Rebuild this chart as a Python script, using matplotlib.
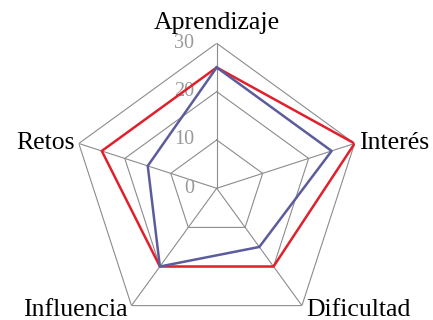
import numpy as np
import matplotlib
matplotlib.use("Agg")
import matplotlib.pyplot as plt

categories = ["Aprendizaje", "Interés", "Dificultad", "Influencia", "Retos"]
series_red = [25, 30, 20, 20, 25]
series_blue = [25, 25, 15, 20, 15]
ring_values = [10, 20, 30]
tick_labels = ["0", "10", "20", "30"]
tick_values = [0, 10, 20, 30]

plt.rcParams['font.family'] = ['Liberation Serif', 'DejaVu Serif']

fig = plt.figure(figsize=(4.33, 3.2), dpi=100)
cx, cy, R = 216.7 / 433, 1 - 188.3 / 320, 145.0
w, h = R / 433, R / 320
ax = fig.add_axes([cx - w, cy - h, 2 * w, 2 * h], projection='polar')
ax.set_theta_offset(np.pi / 2)
ax.set_theta_direction(-1)
ax.set_ylim(0, 30)
ax.axis('off')

n = len(categories)
theta = np.arange(n) * 2 * np.pi / n
tc = np.append(theta, theta[0])

grid_col = '#8c8c8c'
for rv in ring_values:
    ax.plot(tc, [rv] * (n + 1), color=grid_col, lw=0.8, zorder=1)
for t in theta:
    ax.plot([t, t], [0, 30], color=grid_col, lw=0.8, zorder=1)

ax.plot(tc, series_red + series_red[:1], color='#e0202c', lw=1.8, zorder=3)
ax.plot(tc, series_blue + series_blue[:1], color='#5c5c9c', lw=1.8, zorder=3)

for tv, tl in zip(tick_values, tick_labels):
    ax.annotate(tl, xy=(0, tv), xytext=(-16, 0), textcoords='offset points',
                ha='right', va='center', fontsize=14.5, color='#999999', zorder=2)

offsets = [((0, 6.5), 'center', 'bottom'),
           ((3, 0), 'left', 'center'),
           ((3, -3.5), 'left', 'center'),
           ((-3, -3.5), 'right', 'center'),
           ((-3, 0), 'right', 'center')]
for t, lab, (off, ha, va) in zip(theta, categories, offsets):
    ax.annotate(lab, xy=(t, 30), xytext=off, textcoords='offset points',
                ha=ha, va=va, fontsize=18.5, color='black', annotation_clip=False)

fig.savefig('out.png', dpi=100)
